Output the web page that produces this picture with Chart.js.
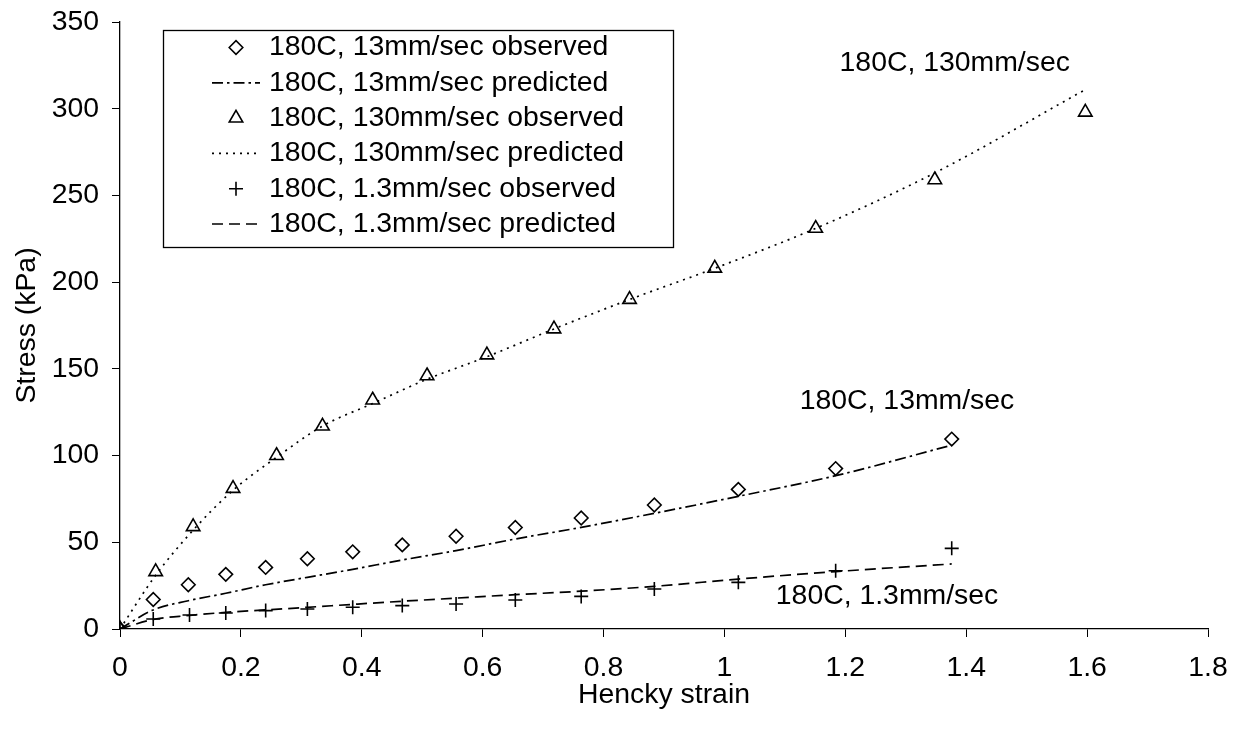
<!DOCTYPE html>
<html>
<head>
<meta charset="utf-8">
<script src="https://cdn.jsdelivr.net/npm/chart.js@4.4.1/dist/chart.umd.min.js"></script>
<style>
  html, body { margin: 0; padding: 0; background: #fff; }
  #c { display: block; }
</style>
</head>
<body>
<canvas id="c" width="1239" height="736"></canvas>
<script>
// ---- Data ----
const strain130 = [0, 0.059, 0.121, 0.187, 0.259, 0.335, 0.418, 0.508, 0.607, 0.718, 0.843, 0.984, 1.151, 1.348, 1.597];
const stress130Obs = [0, 33, 59, 81, 100, 117, 132, 146, 158, 173, 190, 208, 231, 259, 298];
const stress130Pred = [0, 31, 57, 80, 99, 117, 130, 144, 157, 173, 190, 208, 231, 263, 311];

const strain13 = [0, 0.055, 0.113, 0.175, 0.241, 0.310, 0.385, 0.467, 0.556, 0.654, 0.763, 0.884, 1.023, 1.184, 1.376];
const stress13Obs = [0, 17, 25.5, 31.5, 35.5, 40.5, 44.5, 48.5, 53.5, 58.5, 64, 71.5, 80.5, 92.5, 109.5];
const stress13Pred = [0, 11, 16.3, 20.6, 25.5, 29.8, 34.4, 39.8, 45.2, 51.9, 58.6, 66.7, 76.5, 88.4, 106];

const strain1p3 = [0, 0.055, 0.115, 0.175, 0.241, 0.310, 0.385, 0.467, 0.556, 0.654, 0.763, 0.884, 1.023, 1.184, 1.376];
const stress1p3Obs = [0, 5.8, 8.1, 9.2, 10.6, 11.5, 12.5, 13.5, 14.4, 16.7, 18.8, 23.1, 26.9, 33.6, 46.5];
const stress1p3Pred = [0, 5.5, 7.8, 9.6, 11, 12.5, 14.2, 16, 17.8, 19.8, 21.8, 24.6, 28.8, 33.1, 37.5];

const seriesLabels = [
  '180C, 13mm/sec observed',
  '180C, 13mm/sec predicted',
  '180C, 130mm/sec observed',
  '180C, 130mm/sec predicted',
  '180C, 1.3mm/sec observed',
  '180C, 1.3mm/sec predicted'
];

const annoLabels = ['180C, 130mm/sec', '180C, 13mm/sec', '180C, 1.3mm/sec'];
const annoX = [1.381, 1.302, 1.269];
const annoY = [326, 131.5, 19];

const xTicksMin = 0, xTicksMax = 1.8, xStep = 0.2;
const yTicksMin = 0, yTicksMax = 350, yStep = 50;

const xTitle = 'Hencky strain';
const yTitle = 'Stress (kPa)';

// ---- Build ----
const pts = (xs, ys) => xs.map((x, i) => ({ x: x, y: ys[i] }));
const FONT = "'Liberation Sans', Arial, sans-serif";
const FS = 28.4;

const markerBase = {
  showLine: false,
  borderColor: '#000',
  backgroundColor: 'rgba(255,255,255,0)',
  pointBorderWidth: 1.6,
  pointBorderColor: '#000',
  pointBackgroundColor: 'rgba(255,255,255,0)'
};
const lineBase = {
  showLine: true,
  pointRadius: 0,
  borderColor: '#000',
  borderWidth: 1.7,
  fill: false,
  tension: 0,
  cubicInterpolationMode: 'monotone'
};

const datasets = [
  Object.assign({}, markerBase, { label: seriesLabels[0], data: pts(strain13, stress13Obs), pointStyle: 'rectRot', pointRadius: 6.8 }),
  Object.assign({}, lineBase, { label: seriesLabels[1], data: pts(strain13, stress13Pred), borderDash: [11, 4, 2.5, 4] }),
  Object.assign({}, markerBase, { label: seriesLabels[2], data: pts(strain130, stress130Obs), pointStyle: 'triangle', pointRadius: 7.8 }),
  Object.assign({}, lineBase, { label: seriesLabels[3], data: pts(strain130, stress130Pred), borderDash: [2, 5] }),
  Object.assign({}, markerBase, { label: seriesLabels[4], data: pts(strain1p3, stress1p3Obs), pointStyle: 'cross', pointRadius: 7 }),
  Object.assign({}, lineBase, { label: seriesLabels[5], data: pts(strain1p3, stress1p3Pred), borderDash: [11, 6] })
];

const legendPlugin = {
  id: 'boxLegend',
  afterDatasetsDraw(chart) {
    const ctx = chart.ctx;
    const bx = 163.5, by = 30.5, bw = 510, bh = 217;
    ctx.save();
    ctx.fillStyle = '#fff';
    ctx.fillRect(bx, by, bw, bh);
    ctx.strokeStyle = '#000';
    ctx.lineWidth = 1.3;
    ctx.strokeRect(bx, by, bw, bh);
    const rowH = 35.3, firstY = 46.5;
    ctx.font = FS + 'px ' + FONT;
    ctx.textBaseline = 'middle';
    ctx.textAlign = 'left';
    chart.data.datasets.forEach((ds, i) => {
      const cy = firstY + i * rowH;
      if (ds.showLine) {
        ctx.save();
        ctx.strokeStyle = '#000';
        ctx.lineWidth = ds.borderWidth;
        ctx.setLineDash(ds.borderDash || []);
        ctx.beginPath();
        ctx.moveTo(212, cy + 1);
        ctx.lineTo(260, cy + 1);
        ctx.stroke();
        ctx.restore();
      } else {
        ctx.save();
        ctx.strokeStyle = '#000';
        ctx.fillStyle = 'rgba(255,255,255,0)';
        ctx.lineWidth = ds.pointBorderWidth;
        Chart.helpers.drawPoint(ctx, { pointStyle: ds.pointStyle, radius: ds.pointRadius, rotation: 0, borderWidth: ds.pointBorderWidth }, 236, cy + 1);
        ctx.restore();
      }
      ctx.fillStyle = '#000';
      ctx.fillText(ds.label, 269, cy + 1);
    });
    ctx.restore();
  }
};

const annoPlugin = {
  id: 'annos',
  afterDatasetsDraw(chart) {
    const ctx = chart.ctx;
    const xs = chart.scales.x, ys = chart.scales.y;
    ctx.save();
    ctx.font = FS + 'px ' + FONT;
    ctx.fillStyle = '#000';
    ctx.textAlign = 'center';
    ctx.textBaseline = 'middle';
    annoLabels.forEach((t, i) => {
      ctx.fillText(t, xs.getPixelForValue(annoX[i]), ys.getPixelForValue(annoY[i]));
    });
    ctx.restore();
  }
};

new Chart(document.getElementById('c'), {
  type: 'scatter',
  data: { datasets: datasets },
  plugins: [annoPlugin, legendPlugin],
  options: {
    responsive: false,
    animation: false,
    devicePixelRatio: 1,
    layout: { padding: { top: 22, right: 31, left: 0, bottom: 0 } },
    plugins: { legend: { display: false }, tooltip: { enabled: false } },
    scales: {
      x: {
        type: 'linear',
        min: xTicksMin, max: xTicksMax,
        afterFit(s) { s.height = 107; s.paddingLeft = 0; s.paddingRight = 0; },
        ticks: {
          stepSize: xStep,
          color: '#000',
          padding: 14,
          font: { family: FONT, size: FS },
          maxRotation: 0,
          callback: v => String(Math.round(v * 10) / 10)
        },
        grid: { display: true, drawOnChartArea: false, drawTicks: true, tickLength: 8, color: '#000', lineWidth: 1 },
        border: { display: true, color: '#000', width: 1.3 },
        title: { display: true, text: xTitle, color: '#000', font: { family: FONT, size: FS }, padding: { top: 0, bottom: 24 } }
      },
      y: {
        type: 'linear',
        min: yTicksMin, max: yTicksMax,
        afterFit(s) { s.width = 120; s.paddingTop = 0; s.paddingBottom = 0; },
        ticks: {
          stepSize: yStep,
          color: '#000',
          padding: 13,
          font: { family: FONT, size: FS }
        },
        grid: { display: true, drawOnChartArea: false, drawTicks: true, tickLength: 8, color: '#000', lineWidth: 1 },
        border: { display: true, color: '#000', width: 1.3 },
        title: { display: true, text: yTitle, color: '#000', font: { family: FONT, size: FS }, padding: { top: 10, bottom: 0 } }
      }
    }
  }
});
</script>
</body>
</html>
